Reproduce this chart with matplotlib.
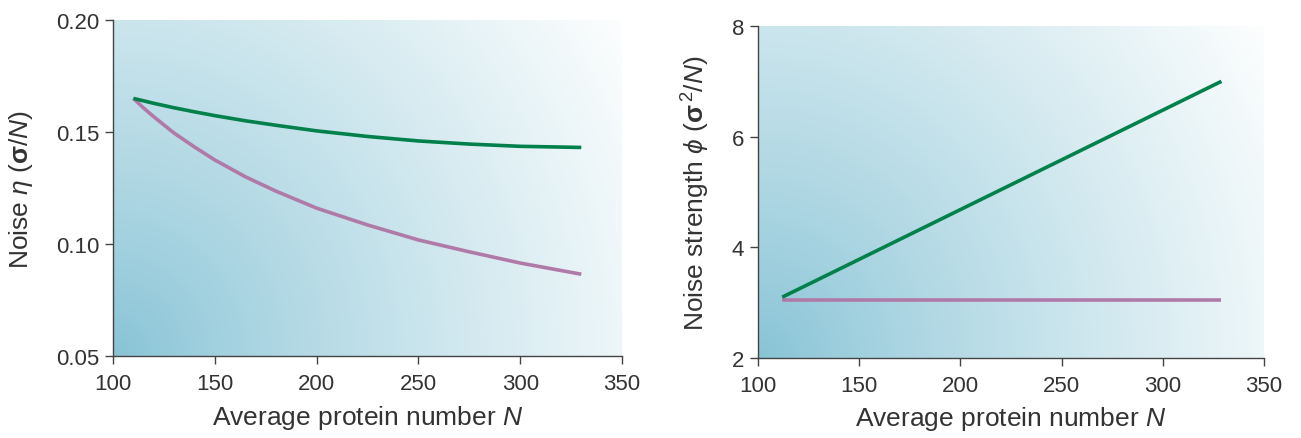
import numpy as np
import matplotlib
matplotlib.use("Agg")
import matplotlib.pyplot as plt

plt.rcParams["font.family"] = ["Liberation Sans", "DejaVu Sans"]
plt.rcParams["mathtext.fontset"] = "custom"
plt.rcParams["mathtext.rm"] = "Liberation Sans"
plt.rcParams["mathtext.it"] = "Liberation Sans:italic"
plt.rcParams["mathtext.bf"] = "Liberation Sans:bold"

# left panel: noise eta vs N
n_left = [110, 115, 120, 130, 140, 150, 165, 180, 200, 225, 250, 275, 300, 330]
eta_green = [0.165, 0.1639, 0.1628, 0.1608, 0.159, 0.1573, 0.155, 0.153, 0.1505,
             0.148, 0.146, 0.1446, 0.1436, 0.1431]
eta_pink = [0.165, 0.1607, 0.1568, 0.1495, 0.1433, 0.1375, 0.130, 0.1236, 0.116,
            0.1085, 0.1018, 0.0965, 0.0915, 0.0865]

# right panel: noise strength phi vs N
n_right = [112, 329]
phi_green = [3.1, 7.0]
phi_pink = [3.05, 3.05]

green = "#00804a"
pink = "#b07aa8"
txt = "#333333"


def gradient(ax):
    w, h = 400, 300
    x = np.linspace(0, 1, w)
    y = np.linspace(0, 1, h)
    X, Y = np.meshgrid(x, y)
    r = np.sqrt((X / 1.0) ** 2 + (Y / 1.6) ** 2) / np.sqrt(1 + 1 / 2.56)
    t = np.clip(r, 0, 1) ** 0.85
    c0 = np.array([135, 195, 213]) / 255
    c1 = np.array([253, 254, 254]) / 255
    img = c0[None, None, :] * (1 - t[..., None]) + c1[None, None, :] * t[..., None]
    ax.imshow(img, origin="lower", extent=[0, 1, 0, 1], transform=ax.transAxes,
              aspect="auto", zorder=0, interpolation="bilinear")


def style(ax):
    for s in ["top", "right"]:
        ax.spines[s].set_visible(False)
    for s in ["left", "bottom"]:
        ax.spines[s].set_color("#444444")
        ax.spines[s].set_linewidth(1.0)
    ax.tick_params(direction="out", length=6, width=1.0, color="#444444",
                   labelsize=16, labelcolor=txt)
    ax.tick_params(axis="x", pad=6)
    ax.tick_params(axis="y", pad=4)


fig = plt.figure(figsize=(13.01, 4.39), dpi=100)

ax1 = fig.add_axes([0.0869, 0.1868, 0.3912, 0.7654])
gradient(ax1)
ax1.plot(n_left, eta_green, color=green, lw=2.6, zorder=3, solid_capstyle="butt")
ax1.plot(n_left, eta_pink, color=pink, lw=2.6, zorder=2, solid_capstyle="butt")
ax1.set_xlim(100, 350)
ax1.set_ylim(0.05, 0.20)
ax1.set_xticks([100, 150, 200, 250, 300, 350])
ax1.set_yticks([0.05, 0.10, 0.15, 0.20])
ax1.set_yticklabels(["0.05", "0.10", "0.15", "0.20"])
ax1.set_xlabel(r"Average protein number $\mathit{N}$", fontsize=19, color=txt)
ax1.set_ylabel(r"Noise $\mathit{\eta}$ ($\mathbf{\sigma}$/$\mathit{N}$)", fontsize=19, color=txt)
ax1.xaxis.set_label_coords(0.5, -0.14)
ax1.yaxis.set_label_coords(-0.153, 0.5)
style(ax1)

ax2 = fig.add_axes([0.5826, 0.1822, 0.3889, 0.7563])
gradient(ax2)
ax2.plot(n_right, phi_green, color=green, lw=2.6, zorder=3, solid_capstyle="butt")
ax2.plot(n_right, phi_pink, color=pink, lw=2.6, zorder=2, solid_capstyle="butt")
ax2.set_xlim(100, 350)
ax2.set_ylim(2, 8)
ax2.set_xticks([100, 150, 200, 250, 300, 350])
ax2.set_yticks([2, 4, 6, 8])
ax2.set_xlabel(r"Average protein number $\mathit{N}$", fontsize=19, color=txt)
ax2.set_ylabel(r"Noise strength $\mathit{\phi}$ ($\mathbf{\sigma}^{\,2}$/$\mathit{N}$)", fontsize=19, color=txt)
ax2.xaxis.set_label_coords(0.5, -0.14)
ax2.yaxis.set_label_coords(-0.091, 0.5)
style(ax2)

fig.savefig("out.png", dpi=100)
